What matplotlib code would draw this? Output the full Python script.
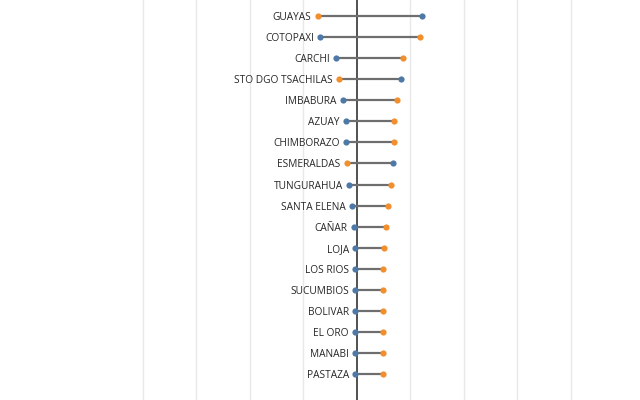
import matplotlib.pyplot as plt

plt.rcParams['font.family'] = ['Open Sans', 'DejaVu Sans']

provinces = ["GUAYAS", "COTOPAXI", "CARCHI", "STO DGO TSACHILAS", "IMBABURA",
             "AZUAY", "CHIMBORAZO", "ESMERALDAS", "TUNGURAHUA", "SANTA ELENA",
             "CAÑAR", "LOJA", "LOS RIOS", "SUCUMBIOS", "BOLIVAR", "EL ORO",
             "MANABI", "PASTAZA"]
blue_vals = [1.22, -0.68, -0.38, 0.82, -0.26, -0.20, -0.20, 0.68, -0.14, -0.08,
             -0.06, -0.03, -0.03, -0.03, -0.03, -0.03, -0.03, -0.03]
orange_vals = [-0.73, 1.18, 0.87, -0.33, 0.75, 0.69, 0.69, -0.19, 0.64, 0.58,
               0.55, 0.51, 0.50, 0.50, 0.50, 0.50, 0.50, 0.50]
grid_ticks = [-4, -3, -2, -1, 0, 1, 2, 3, 4]

BLUE = '#4e79a7'
ORANGE = '#f28e2b'

fig = plt.figure(figsize=(6.4, 4.0), dpi=100)
ax = fig.add_axes([0, 0, 1, 1])

for t in grid_ticks:
    if t == 0:
        ax.axvline(t, color='#222222', lw=1.1, zorder=2)
    else:
        ax.axvline(t, color='#e8e8e8', lw=1.0, zorder=0)

ys = list(range(len(provinces)))
for y, name, b, o in zip(ys, provinces, blue_vals, orange_vals):
    ax.plot([b, o], [y, y], color='#6e6e6e', lw=1.6, zorder=3)
    ax.annotate(name, (min(b, o), y), xytext=(-4.5, 0), textcoords='offset points',
                ha='right', va='center_baseline', fontsize=7.3, color='#262626')

ax.scatter(blue_vals, ys, s=20, color=BLUE, zorder=4, linewidths=0)
ax.scatter(orange_vals, ys, s=20, color=ORANGE, zorder=4, linewidths=0)

ax.set_xlim(-6.667, 5.294)
ax.set_ylim(18.23, -0.76)
ax.axis('off')

fig.savefig('out.png', dpi=100)
